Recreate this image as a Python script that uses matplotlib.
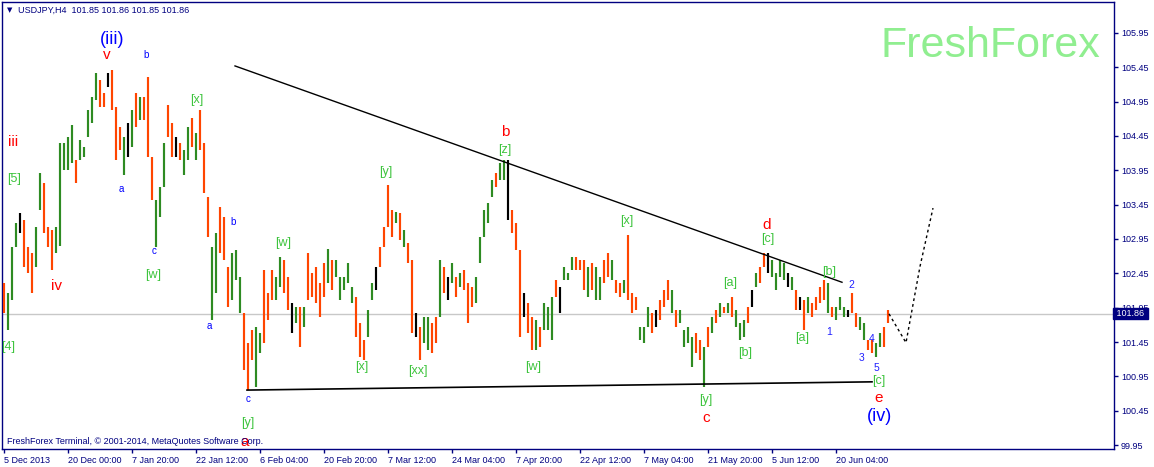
import numpy as np
import matplotlib
matplotlib.use("Agg")
import matplotlib.pyplot as plt
import matplotlib.transforms as mtransforms

plt.rcParams['font.family'] = ['Liberation Sans', 'DejaVu Sans']

# ---------------- data ----------------
symbol_title = "USDJPY,H4  101.85 101.86 101.85 101.86"
last_price = 101.86

# one entry per group of 4 H4 bars (high, low, direction u/d/n)
highs = [
    102.31, 102.16, 102.83, 103.18, 103.33, 103.23, 102.83, 102.75, 103.12, 103.91,
    103.77, 103.12, 103.08, 103.12, 104.35, 104.35, 104.44, 104.61, 104.10, 104.39,
    104.29, 104.83, 105.02, 105.37, 105.27, 105.08, 105.37, 105.41, 104.87, 104.58,
    104.44, 104.64, 104.83, 105.08, 105.02, 105.02, 105.31, 104.14, 103.52, 103.71,
    104.35, 104.90, 104.64, 104.44, 104.35, 104.24, 104.58, 104.71, 104.49, 104.83,
    104.35, 103.56, 102.83, 103.04, 103.42, 103.27, 102.54, 102.75, 102.79, 102.40,
    101.87, 101.44, 101.62, 101.67, 101.58, 102.50, 102.16, 102.50, 102.40, 102.69,
    102.64, 102.40, 102.02, 101.96, 101.96, 101.96, 102.75, 102.45, 102.54, 102.31,
    102.60, 102.80, 102.64, 102.64, 102.40, 102.40, 102.60, 102.25, 102.10, 101.73,
    101.48, 101.92, 102.31, 102.54, 102.83, 103.12, 103.74, 103.37, 103.34, 103.33,
    103.08, 102.89, 102.64, 101.87, 101.67, 101.81, 101.81, 101.73, 101.81, 102.64,
    102.54, 102.40, 102.60, 102.40, 102.45, 102.50, 102.31, 102.25, 102.40, 102.98,
    103.37, 103.47, 103.81, 103.91, 104.06, 104.10, 104.10, 103.37, 103.18, 102.79,
    102.16, 102.02, 101.81, 101.77, 101.67, 102.02, 101.96, 102.10, 102.35, 102.25,
    102.54, 102.45, 102.69, 102.69, 102.64, 102.64, 102.54, 102.60, 102.54, 102.40,
    102.64, 102.75, 102.64, 102.35, 102.31, 102.35, 103.01, 102.16, 102.10, 101.67,
    101.67, 101.96, 101.87, 101.92, 102.06, 102.21, 102.35, 102.21, 101.92, 101.92,
    101.62, 101.67, 101.52, 101.58, 101.48, 101.38, 101.67, 101.81, 101.92, 102.02,
    101.96, 102.02, 102.10, 101.92, 101.73, 101.77, 101.96, 102.21, 102.45, 102.54,
    102.75, 102.75, 102.64, 102.45, 102.64, 102.60, 102.45, 102.40, 102.21, 102.10,
    102.06, 102.10, 102.02, 102.10, 102.25, 102.35, 102.31, 101.96, 101.96, 102.10,
    101.96, 101.92, 102.16, 101.87, 101.81, 101.73, 101.48, 101.48, 101.44, 101.58,
    101.67, 101.92,
]
lows = [
    101.87, 101.62, 102.06, 102.83, 103.04, 102.54, 102.45, 102.16, 102.54, 103.37,
    103.04, 102.83, 102.50, 102.75, 102.85, 103.95, 103.95, 104.06, 103.77, 104.10,
    104.14, 104.44, 104.64, 104.97, 104.87, 104.87, 105.16, 104.83, 104.10, 104.24,
    103.88, 104.14, 104.29, 104.58, 104.68, 104.68, 104.14, 103.52, 102.83, 103.27,
    103.71, 104.44, 104.14, 104.14, 104.10, 103.88, 104.10, 104.29, 104.10, 104.24,
    103.62, 102.98, 101.77, 102.16, 102.75, 102.64, 101.96, 102.06, 102.35, 101.87,
    101.04, 100.75, 101.19, 100.79, 101.29, 101.44, 101.77, 102.06, 102.06, 102.25,
    102.16, 101.92, 101.58, 101.73, 101.38, 101.67, 102.06, 102.10, 102.02, 101.81,
    102.10, 102.31, 102.21, 102.40, 102.06, 102.21, 102.31, 102.02, 101.52, 101.23,
    101.19, 101.52, 102.06, 102.21, 102.54, 102.83, 103.12, 102.98, 103.18, 102.94,
    102.83, 102.60, 101.58, 101.52, 101.19, 101.44, 101.33, 101.29, 101.44, 101.81,
    102.16, 102.06, 102.31, 102.10, 102.25, 102.21, 101.73, 101.96, 102.02, 102.60,
    102.98, 103.18, 103.56, 103.71, 103.81, 103.81, 103.23, 103.04, 102.79, 101.52,
    101.81, 101.58, 101.33, 101.33, 101.38, 101.62, 101.62, 101.48, 102.10, 101.87,
    102.35, 102.35, 102.50, 102.50, 102.50, 102.21, 102.10, 102.21, 102.06, 102.06,
    102.31, 102.40, 102.35, 102.16, 102.10, 102.16, 102.06, 101.87, 101.92, 101.48,
    101.44, 101.67, 101.58, 101.67, 101.77, 101.96, 102.06, 101.87, 101.67, 101.73,
    101.38, 101.44, 101.08, 101.29, 101.19, 100.79, 101.38, 101.58, 101.73, 101.81,
    101.87, 101.87, 101.81, 101.67, 101.48, 101.52, 101.73, 101.96, 102.25, 102.31,
    102.54, 102.45, 102.40, 102.21, 102.40, 102.35, 102.25, 102.21, 101.92, 101.92,
    101.62, 101.87, 101.81, 101.92, 102.02, 102.06, 101.87, 101.81, 101.77, 101.92,
    101.81, 101.81, 101.87, 101.67, 101.62, 101.48, 101.33, 101.29, 101.23, 101.38,
    101.38, 101.73,
]
dirs = (
    "duuunddduu" "dddu" "uuuuduuuuud" "dndddunudud" "dduuudd" "nduudud" "dduudd"
    "duuuddduudd" "duuddnududd" "ddduduuuuud" "dduunddddud" "uddnduuddud"
    "nududdduuuu" "uduundddndd" "uduuudnuuud" "dduduuddudd" "uddduuudndd"
    "duduuuuddud" "udududuuudn" "uddnuuuunud" "ndudddduduu" "undduudduud"
    "dduuu"
)

date_labels = ["5 Dec 2013", "20 Dec 00:00", "7 Jan 20:00", "22 Jan 12:00",
               "6 Feb 04:00", "20 Feb 20:00", "7 Mar 12:00", "24 Mar 04:00",
               "7 Apr 20:00", "22 Apr 12:00", "7 May 04:00", "21 May 20:00",
               "5 Jun 12:00", "20 Jun 04:00"]
price_ticks = [99.95, 100.45, 100.95, 101.45, 101.95, 102.45, 102.95,
               103.45, 103.95, 104.45, 104.95, 105.45, 105.95]

# trend lines (bar index, price)
upper_line_x = [231, 838]
upper_line_y = [105.47, 102.32]
lower_line_x = [243, 868]
lower_line_y = [100.75, 100.87]
proj_x = [885, 902, 916, 929]
proj_y = [101.86, 101.44, 102.55, 103.40]

# wave labels: (bar, price, text, kind)
wave_labels = [
    (108, 105.86, "(iii)", "big"), (103, 105.63, "v", "red"), (142, 105.63, "b", "blue"),
    (9, 104.36, "iii", "red"), (10, 103.82, "[5]", "green"), (53, 102.27, "iv", "red"),
    (4, 101.38, "[4]", "green"), (117, 103.68, "a", "blue"), (193, 104.97, "[x]", "green"),
    (150, 102.78, "c", "blue"), (149, 102.43, "[w]", "green"), (229, 103.20, "b", "blue"),
    (279, 102.89, "[w]", "green"), (205, 101.68, "a", "blue"), (244, 100.62, "c", "blue"),
    (244, 100.27, "[y]", "green"), (241, 99.99, "a", "red"), (382, 103.93, "[y]", "green"),
    (358, 101.09, "[x]", "green"), (414, 101.03, "[xx]", "green"), (529, 101.09, "[w]", "green"),
    (501, 104.51, "b", "red"), (501, 104.25, "[z]", "green"), (623, 103.21, "[x]", "green"),
    (763, 103.15, "d", "red"), (764, 102.95, "[c]", "green"), (726, 102.31, "[a]", "green"),
    (741, 101.29, "[b]", "green"), (702, 100.61, "[y]", "green"), (702, 100.34, "c", "red"),
    (798, 101.51, "[a]", "green"), (825, 101.60, "1", "num"), (825, 102.47, "[b]", "green"),
    (847, 102.28, "2", "num"), (858, 101.22, "3", "num"), (868, 101.49, "4", "num"),
    (872, 101.07, "5", "num"), (875, 100.88, "[c]", "green"), (875, 100.63, "e", "red"),
    (876, 100.36, "(iv)", "big"),
]

# ---------------- drawing ----------------
NAVY = "#000080"
UP = "#2E8B22"
DOWN = "#FF4500"
W, H = 1154, 467
fig = plt.figure(figsize=(W / 100, H / 100), dpi=100)
ax = fig.add_axes([2 / W, 18 / H, 1112 / W, 447 / H])

step = 4
xs = np.arange(len(highs)) * step
col_map = {"u": UP, "d": DOWN, "n": "black"}
colors = [col_map[c] for c in dirs[:len(highs)]]
ax.vlines(xs, lows, highs, colors=colors, linewidth=1.55, zorder=3)

ax.axhline(last_price, color="#C8C8C8", lw=1, zorder=1)
ax.plot(upper_line_x, upper_line_y, color="black", lw=1, zorder=4)
ax.plot(lower_line_x, lower_line_y, color="black", lw=1.2, zorder=4)
ax.plot(proj_x, proj_y, color="black", lw=1, linestyle=(0, (2, 2.2)), zorder=4)

styles = {
    "big": dict(color="#0000FF", fontsize=13),
    "red": dict(color="#FF0000", fontsize=11),
    "blue": dict(color="#0000FF", fontsize=7),
    "green": dict(color="#3EC43E", fontsize=9),
    "num": dict(color="#2020FF", fontsize=7.5),
}
for bx, py, txt, kind in wave_labels:
    ax.text(bx, py, txt, ha="center", va="center", zorder=5, clip_on=True, **styles[kind])

ax.set_xlim(-2, 1110)
ax.set_ylim(99.892, 106.401)

ax.set_xticks(np.arange(len(date_labels)) * 64)
ax.set_xticklabels(date_labels, fontsize=6.5, color=NAVY)
for lab in ax.get_xticklabels():
    lab.set_ha("left")
ax.yaxis.tick_right()
ax.set_yticks(price_ticks)
ax.set_yticklabels([f"{p:.2f}" for p in price_ticks], fontsize=6.5, color=NAVY)
ax.tick_params(axis="both", direction="out", length=3, width=1, color=NAVY, pad=2)
for s in ax.spines.values():
    s.set_color(NAVY)
    s.set_linewidth(1)

# current price box
trans = mtransforms.blended_transform_factory(ax.transAxes, ax.transData)
ax.text(1.0, last_price, " 101.86 ", transform=trans, ha="left", va="center",
        fontsize=6.5, color="white", zorder=10, clip_on=False,
        bbox=dict(boxstyle="square,pad=0.12", fc=NAVY, ec=NAVY))

# header / watermark / copyright
fig.text(7 / W, 1 - 10 / H, "\u25BC", fontsize=5, color=NAVY, va="center",
         family="DejaVu Sans")
fig.text(18 / W, 1 - 10 / H, symbol_title, fontsize=6.5, color=NAVY, va="center")
fig.text(1100 / W, 1 - 57 / H, "FreshForex", fontsize=31, color="#90EE90",
         ha="right", va="baseline")
fig.text(7 / W, 1 - 442 / H, "FreshForex Terminal, \u00A9 2001-2014, MetaQuotes Software Corp.",
         fontsize=6.5, color=NAVY, va="center", zorder=20)

fig.savefig("out.png", dpi=100, facecolor="white")
